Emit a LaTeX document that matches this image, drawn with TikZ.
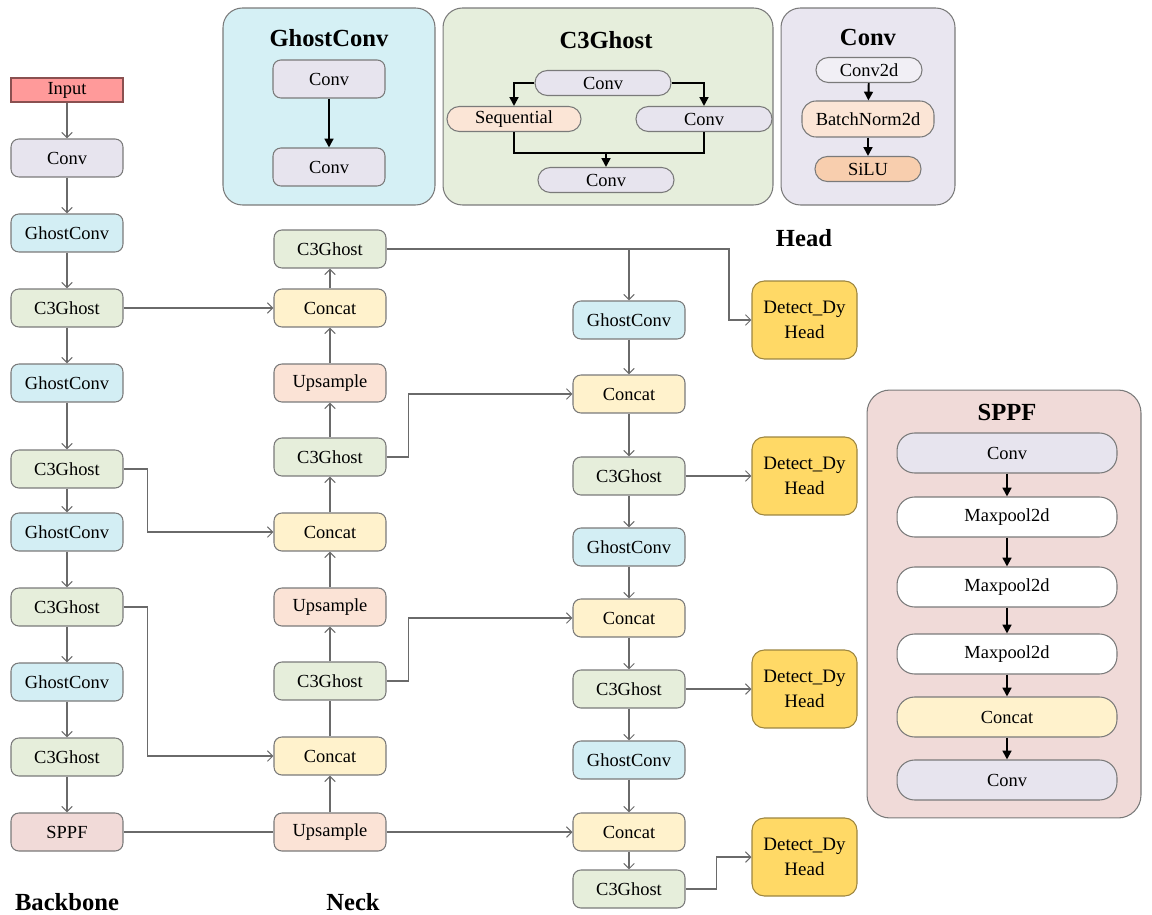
\documentclass[tikz,border=0pt]{standalone}
\usepackage{fontspec}
\setmainfont{Liberation Serif}
\usetikzlibrary{arrows.meta}
\definecolor{convc}{HTML}{E7E4EE}
\definecolor{ghostc}{HTML}{D3EEF4}
\definecolor{c3c}{HTML}{E6EEDB}
\definecolor{concatc}{HTML}{FFF2CC}
\definecolor{upc}{HTML}{FBE3D6}
\definecolor{sppfc}{HTML}{F1DAD8}
\definecolor{detc}{HTML}{FFD966}
\definecolor{detb}{HTML}{9C8540}
\definecolor{inputc}{HTML}{FF9A9A}
\definecolor{inputb}{HTML}{8A5050}
\definecolor{bordc}{HTML}{7A7A7A}
\definecolor{linec}{HTML}{6A6A6A}
\definecolor{pghost}{HTML}{D5F0F5}
\definecolor{pc3}{HTML}{E6EEDC}
\definecolor{pconv}{HTML}{E9E6F0}
\definecolor{psppf}{HTML}{F0DAD8}
\definecolor{peachc}{HTML}{FBE5D6}
\definecolor{siluc}{HTML}{F8CEAE}
\begin{document}
\begin{tikzpicture}[x=0.02cm,y=-0.02cm,
  nodefont/.style={font=\fontsize{10.5}{12.5}\selectfont},
  blk/.style={draw=bordc, line width=0.6pt, rounded corners=4.5pt, minimum width=2.24cm, minimum height=0.76cm, inner sep=0pt, nodefont},
  conv/.style={blk, fill=convc},
  ghost/.style={blk, fill=ghostc},
  cthree/.style={blk, fill=c3c},
  concat/.style={blk, fill=concatc},
  upsam/.style={blk, fill=upc},
  sppfb/.style={blk, fill=sppfc},
  detect/.style={draw=detb, line width=0.6pt, fill=detc, rounded corners=7pt, minimum width=2.1cm, minimum height=1.56cm, inner sep=0pt, align=center, font=\fontsize{10.8}{14}\selectfont},
  panel/.style={draw=bordc, line width=0.6pt, rounded corners=11pt, inner sep=0pt},
  ptitle/.style={font=\fontsize{14}{16}\selectfont\bfseries},
  pill/.style={draw=bordc, line width=0.6pt, rounded corners=7pt, minimum height=0.5cm, inner sep=0pt, nodefont},
  sbox/.style={draw=bordc, line width=0.6pt, rounded corners=10pt, minimum width=4.4cm, minimum height=0.8cm, inner sep=0pt, nodefont},
  ln/.style={draw=linec, line width=0.6pt},
  arr/.style={ln, -{Straight Barb[length=3pt,width=6pt]}},
  pline/.style={draw=black, line width=1.1pt},
  parr/.style={pline, -{Triangle[length=5pt,width=5pt]}}
]
\useasboundingbox (0,0) rectangle (1152,915);

% ---------- top panels ----------
\node[panel, fill=pghost, minimum width=4.24cm, minimum height=3.94cm] (pg) at (329,106.5) {};
\node[ptitle] (pgt) at (329,38) {GhostConv};
\node[conv] (g1) at (329,79) {Conv};
\node[conv] (g2) at (329,167) {Conv};
\draw[parr] (g1) -- (g2);

\node[panel, fill=pc3, minimum width=6.6cm, minimum height=3.94cm] (pc) at (608,106.5) {};
\node[ptitle] (pct) at (606,40) {C3Ghost};
\node[pill, fill=convc, minimum width=2.72cm] (cT) at (603,83) {Conv};
\node[pill, fill=peachc, minimum width=2.68cm] (cS) at (514,119) {Sequential};
\node[pill, fill=convc, minimum width=2.72cm] (cR) at (704,119) {Conv};
\node[pill, fill=convc, minimum width=2.72cm] (cB) at (606,180) {Conv};
\coordinate (cj) at (606,153);
\draw[parr] (cT.west) -| (cS.north);
\draw[parr] (cT.east) -| (cR.north);
\draw[pline] (cS.south) |- (cj) -| (cR.south);
\draw[parr] (cj) -- (cB.north);

\node[panel, fill=pconv, minimum width=3.48cm, minimum height=3.94cm] (pv) at (868,106.5) {};
\node[ptitle] (pvt) at (868,37) {Conv};
\node[pill, fill=convc!60!white, minimum width=2.12cm] (v1) at (869,70) {Conv2d};
\node[blk, fill=peachc, minimum width=2.64cm, minimum height=0.72cm, rounded corners=8pt] (v2) at (868,119) {BatchNorm2d};
\node[pill, fill=siluc, minimum width=2.12cm] (v3) at (868,169) {SiLU};
\draw[parr] (v1) -- (v2);
\draw[parr] (v2) -- (v3);

% ---------- SPPF panel ----------
\node[panel, fill=psppf, minimum width=5.48cm, minimum height=8.56cm, rounded corners=13pt] (ps) at (1004,604) {};
\node[ptitle] (pst) at (1007,412) {SPPF};
\node[sbox, fill=convc] (s1) at (1007,453) {Conv};
\node[sbox, fill=white] (s2) at (1007,517) {Maxpool2d};
\node[sbox, fill=white] (s3) at (1007,587) {Maxpool2d};
\node[sbox, fill=white] (s4) at (1007,654) {Maxpool2d};
\node[sbox, fill=concatc] (s5) at (1007,717) {Concat};
\node[sbox, fill=convc] (s6) at (1007,780) {Conv};
\foreach \a/\b in {s1/s2,s2/s3,s3/s4,s4/s5,s5/s6} \draw[parr] (\a) -- (\b);

% ---------- backbone ----------
\node[blk, fill=inputc, draw=inputb, rounded corners=0pt, minimum height=0.48cm] (b0) at (67,90) {Input};
\node[conv] (b1) at (67,158) {Conv};
\node[ghost] (b2) at (67,233) {GhostConv};
\node[cthree] (b3) at (67,308) {C3Ghost};
\node[ghost] (b4) at (67,383) {GhostConv};
\node[cthree] (b5) at (67,469) {C3Ghost};
\node[ghost] (b6) at (67,532) {GhostConv};
\node[cthree] (b7) at (67,607) {C3Ghost};
\node[ghost] (b8) at (67,682) {GhostConv};
\node[cthree] (b9) at (67,757) {C3Ghost};
\node[sppfb] (b10) at (67,832) {SPPF};
\foreach \a/\b in {b0/b1,b1/b2,b2/b3,b3/b4,b4/b5,b5/b6,b6/b7,b7/b8,b8/b9,b9/b10} \draw[arr] (\a) -- (\b);

% ---------- neck ----------
\node[cthree] (n1) at (330,249) {C3Ghost};
\node[concat] (n2) at (330,308) {Concat};
\node[upsam] (n3) at (330,383) {Upsample};
\node[cthree] (n4) at (330,457) {C3Ghost};
\node[concat] (n5) at (330,532) {Concat};
\node[upsam] (n6) at (330,607) {Upsample};
\node[cthree] (n7) at (330,681) {C3Ghost};
\node[concat] (n8) at (330,756) {Concat};
\node[upsam] (n9) at (330,832) {Upsample};
\foreach \a/\b in {n9/n8,n7/n6,n6/n5,n5/n4,n4/n3,n3/n2,n2/n1} \draw[arr] (\a) -- (\b);
\draw[ln] (n8) -- (n7);

% ---------- head ----------
\node[ghost] (h1) at (629,320) {GhostConv};
\node[concat] (h2) at (629,394) {Concat};
\node[cthree] (h3) at (629,476) {C3Ghost};
\node[ghost] (h4) at (629,547) {GhostConv};
\node[concat] (h5) at (629,618) {Concat};
\node[cthree] (h6) at (629,689) {C3Ghost};
\node[ghost] (h7) at (629,760) {GhostConv};
\node[concat] (h8) at (629,832) {Concat};
\node[cthree] (h9) at (629,889) {C3Ghost};
\foreach \a/\b in {h1/h2,h2/h3,h3/h4,h4/h5,h5/h6,h6/h7,h7/h8,h8/h9} \draw[arr] (\a) -- (\b);

\node[detect] (d1) at (804.5,320) {Detect\_Dy\\Head};
\node[detect] (d2) at (804.5,476) {Detect\_Dy\\Head};
\node[detect] (d3) at (804.5,689) {Detect\_Dy\\Head};
\node[detect] (d4) at (804.5,857) {Detect\_Dy\\Head};

% ---------- cross connections ----------
\draw[arr] (b3.east) -- (n2.west);
\draw[arr] (b5.east) -- ++(24,0) |- (n5.west);
\draw[arr] (b7.east) -- ++(24,0) |- (n8.west);
\draw[ln] (b10.east) -- (n9.west);
\draw[arr] (n9.east) -- (h8.west);
\draw[arr] (n7.east) -- ++(22,0) |- (h5.west);
\draw[arr] (n4.east) -- ++(22,0) |- (h2.west);
\coordinate (j1) at (629,249);
\coordinate (j2) at (729,249);
\draw[arr] (n1.east) -- (j2) |- (d1.west);
\draw[arr] (j1) -- (h1.north);
\draw[arr] (h3.east) -- (d2.west);
\draw[arr] (h6.east) -- (d3.west);
\draw[arr] (h9.east) -- ++(31,0) |- (d4.west);

% ---------- section labels ----------
\node[ptitle] (lb) at (67,902) {Backbone};
\node[ptitle] (lnk) at (353,902) {Neck};
\node[ptitle] (lh) at (804,238) {Head};
\end{tikzpicture}
\end{document}
